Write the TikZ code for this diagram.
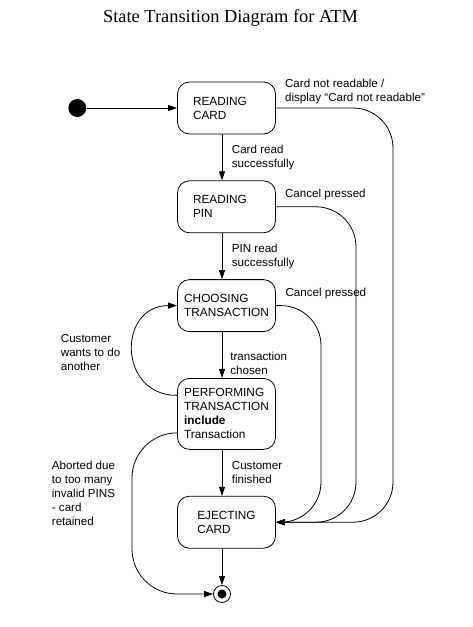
\documentclass[tikz,border=0pt]{standalone}
\usepackage{fontspec}
\setmainfont{Liberation Sans}
\newfontfamily\titlefont{Liberation Serif}
\usetikzlibrary{positioning,arrows.meta,calc}

\tikzset{
  state/.style={draw, rounded corners=12pt, line width=0.8pt, minimum width=98pt,
    minimum height=52pt, align=left, font=\fontsize{11.8}{14}\selectfont},
  lbl/.style={align=left, inner sep=0pt, font=\fontsize{11.6}{14}\selectfont},
  trans/.style={line width=0.8pt, -{Triangle[length=9pt,width=6pt]}},
}

\begin{document}
\begin{tikzpicture}[x=1pt,y=-1pt]
  \useasboundingbox (0,0) rectangle (473,627);
  \node[font=\titlefont\fontsize{18.4}{20}\selectfont] (title) at (230.5,18) {State Transition Diagram for ATM};

  % states
  \node[state, text width=67pt] (card) at (226.5,108) {READING\\CARD};
  \node[state, text width=67pt, below=46pt of card] (pin) {READING\\PIN};
  \node[state, below=46pt of pin] (choose) {CHOOSING\\TRANSACTION};
  \node[state, below=46pt of choose, minimum height=71pt] (perf) {PERFORMING\\TRANSACTION\\\textbf{include}\\Transaction};
  \node[state, below=46pt of perf] (eject) {EJECTING\\CARD};

  \node[circle, fill, minimum size=18pt, inner sep=0pt] (start) at (77.3,108) {};
  \node[circle, draw, line width=0.8pt, minimum size=17pt, inner sep=0pt] (stop) at (222,594) {};
  \fill (stop) circle (4.5pt);

  \coordinate (r1) at (393,0);
  \coordinate (r2) at (356,0);
  \coordinate (r3) at (321,0);
  \coordinate (l1) at (132,0);

  % transitions
  \draw[trans] (start) -- (card);
  \draw[trans] ([xshift=-4.5pt]card.south) -- ([xshift=-4.5pt]pin.north)
    node[lbl, midway, right=9.5pt] {Card read\\successfully};
  \draw[trans] ([xshift=-4.5pt]pin.south) -- ([xshift=-4.5pt]choose.north)
    node[lbl, midway, right=9.5pt] {PIN read\\successfully};
  \draw[trans] ([xshift=-4.5pt]choose.south) -- ([xshift=-4.5pt]perf.north)
    node[lbl, pos=0.69, right=8pt] {transaction\\chosen};
  \draw[trans] ([xshift=-4.5pt]perf.south) -- ([xshift=-4.5pt]eject.north)
    node[lbl, midway, right=9.5pt] {Customer\\finished};
  \draw[trans] ([xshift=-4.5pt]eject.south) -- (stop.north);

  \draw[trans, rounded corners=40pt] (card.east) -| (r1 |- eject.east) -- (eject.east);
  \draw[trans, rounded corners=40pt] (pin.east) -| (r2 |- eject.east) -- (eject.east);
  \draw[trans, rounded corners=40pt] (choose.east) -| (r3 |- eject.east) -- (eject.east);

  \draw[trans] ([yshift=18.5pt]perf.west) to[out=180, in=180, looseness=1.7] (choose.west);
  \draw[trans, rounded corners=45pt] ([yshift=-19pt]perf.west) -| (l1 |- stop.west) -- (stop.west);

  % labels
  \node[lbl, anchor=west] (cnrlbl) at ([xshift=9pt,yshift=17pt]card.east)
    {Card not readable /\\display “Card not readable”};
  \node[lbl, anchor=west] (cancel1) at ([xshift=9pt,yshift=12pt]pin.east) {Cancel pressed};
  \node[lbl, anchor=west] (cancel2) at ([xshift=9.5pt,yshift=12pt]choose.east) {Cancel pressed};
  \node[lbl, anchor=west] (againlbl) at (60.7,353) {Customer\\wants to do\\another};
  \node[lbl, anchor=west] (abortlbl) at (51.7,493) {Aborted due\\to too many\\invalid PINS\\- card\\retained};
\end{tikzpicture}
\end{document}
